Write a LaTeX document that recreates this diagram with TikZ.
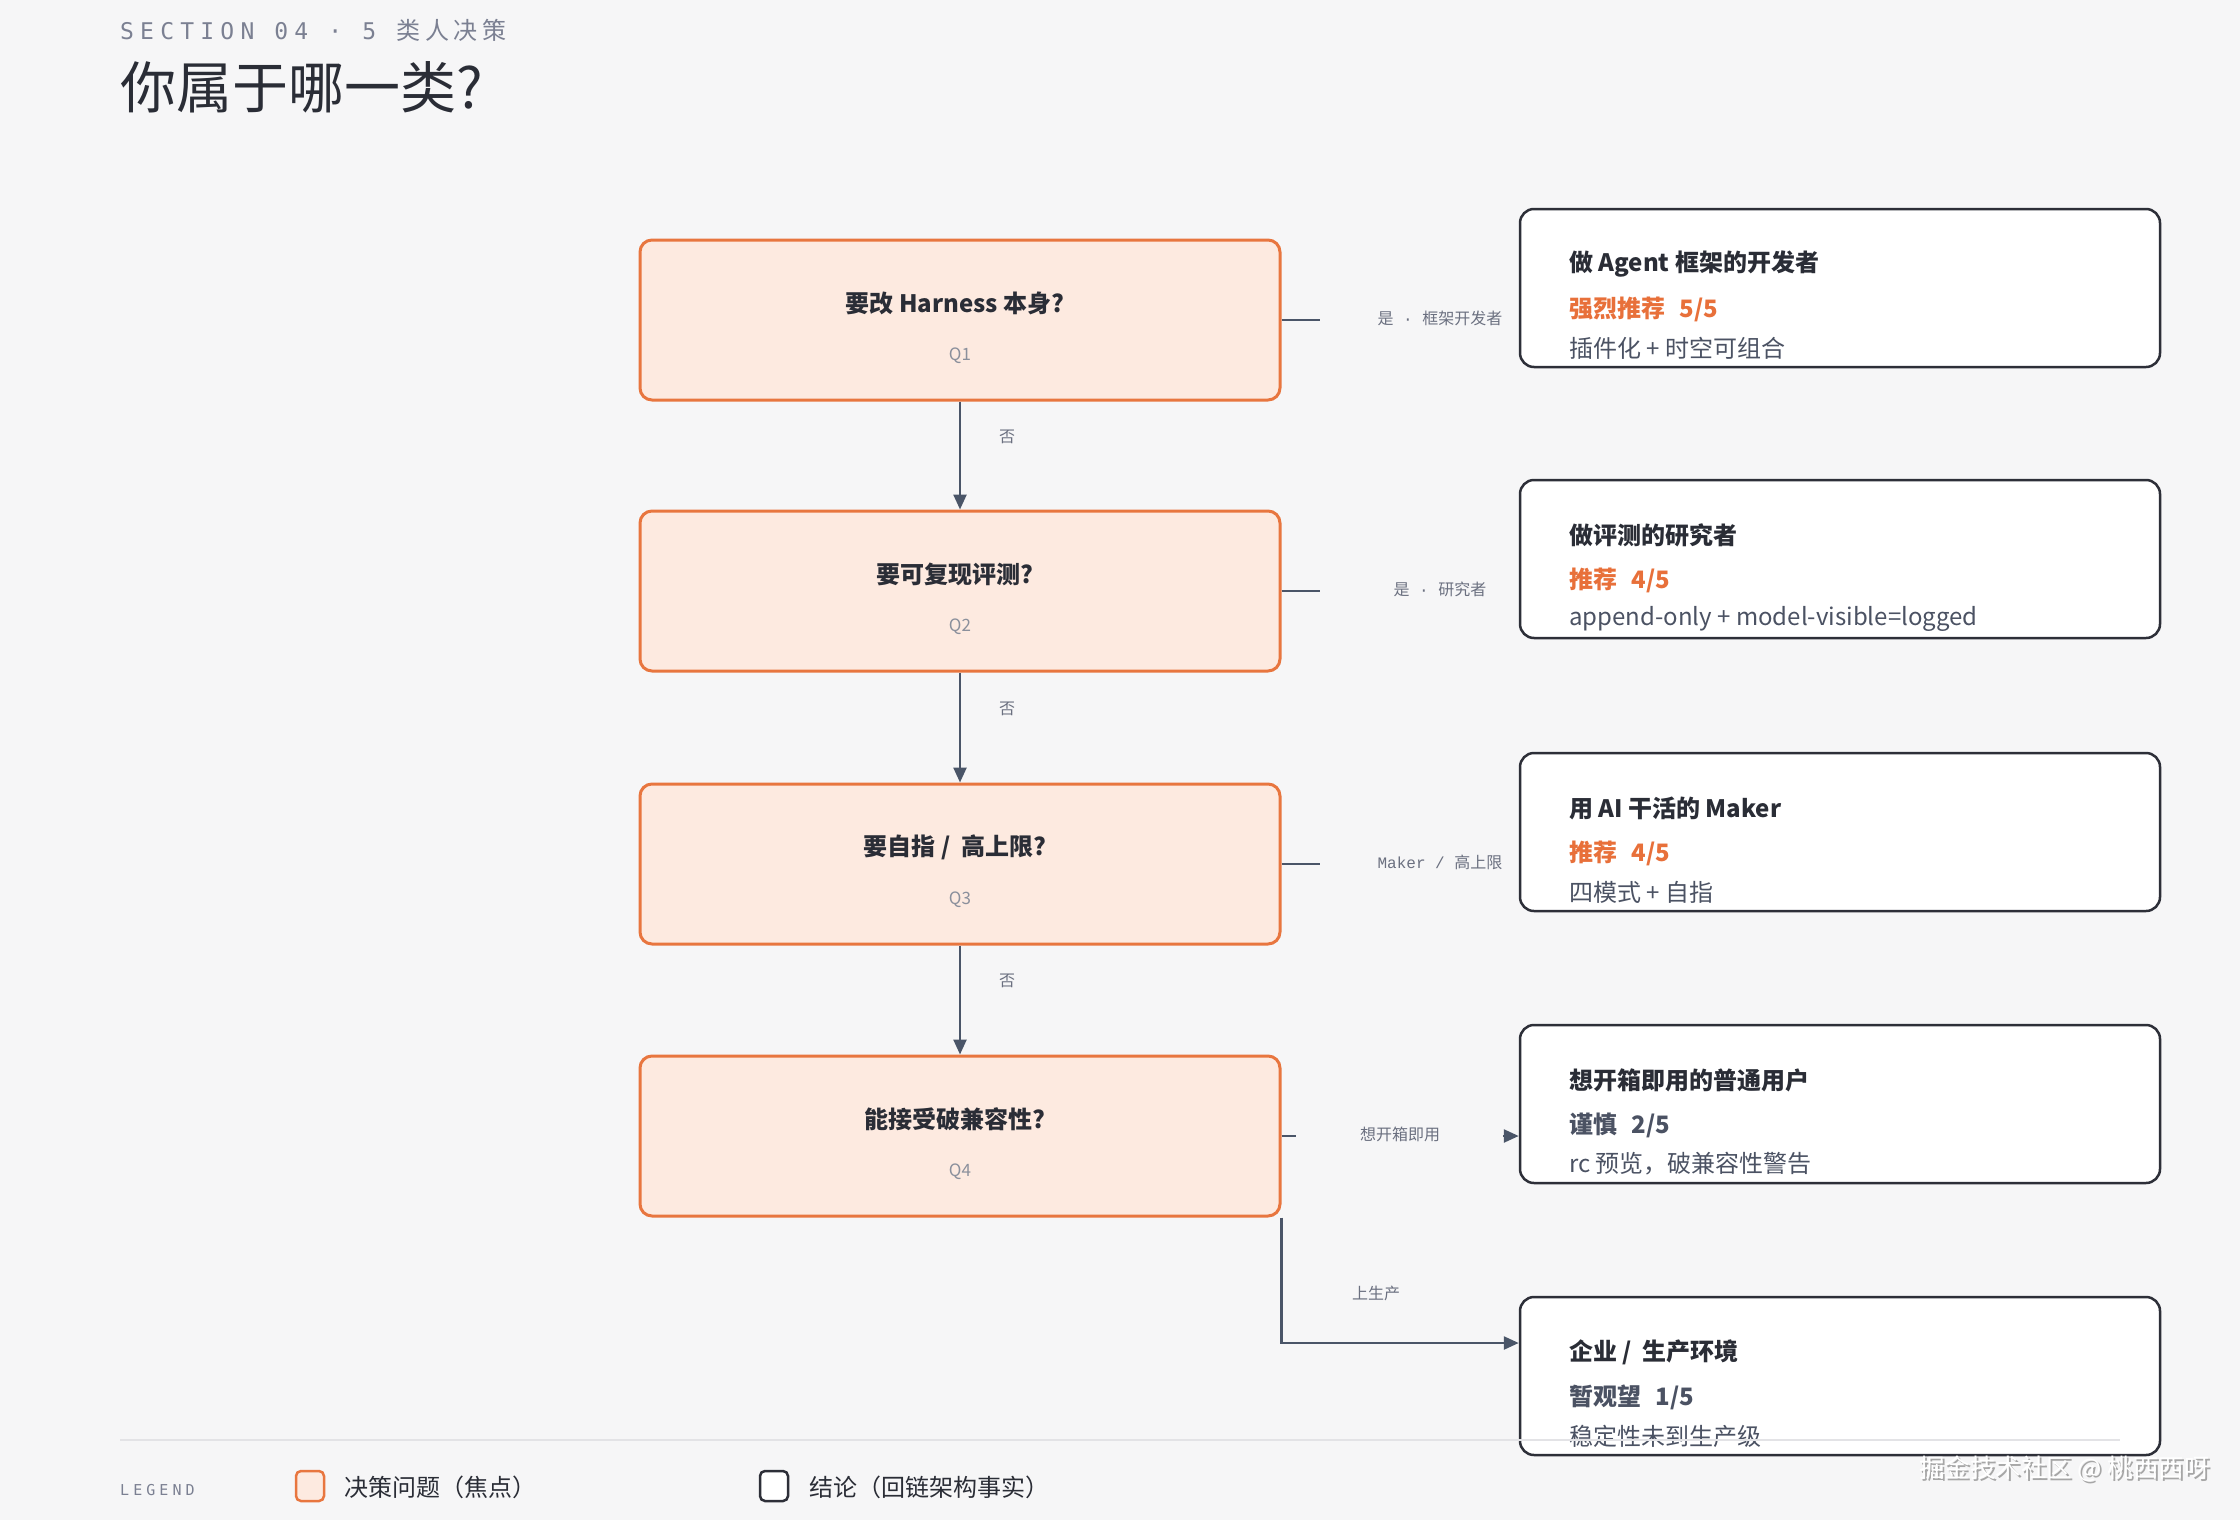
\documentclass[tikz,border=0pt]{standalone}
\usepackage{fontspec}
\setmainfont{Noto Sans CJK SC}
\newfontfamily\songti{Noto Sans CJK SC}
\newfontfamily\secmono[LetterSpace=27]{DejaVu Sans Mono}
\newfontfamily\seccjk[LetterSpace=20]{Noto Sans CJK SC}
\newfontfamily\lmono{Liberation Mono}
\usetikzlibrary{arrows.meta}
\definecolor{bg}{HTML}{F6F6F7}
\definecolor{qorange}{HTML}{E8763F}
\definecolor{qfill}{HTML}{FDEAE0}
\definecolor{cdark}{HTML}{2D2F38}
\definecolor{tdark}{HTML}{2A2D36}
\definecolor{tgray}{HTML}{4B5263}
\definecolor{torange}{HTML}{E8703A}
\definecolor{slate}{HTML}{4A5568}
\definecolor{qgray}{HTML}{8B909C}
\definecolor{lgray}{HTML}{6B7080}
\definecolor{secgray}{HTML}{7B8092}
\definecolor{sepline}{HTML}{E3E3E6}
\tikzset{
  qbox/.style={draw=qorange, line width=3pt, fill=qfill, rounded corners=12pt,
    minimum width=640pt, minimum height=160pt, inner sep=0pt},
  cbox/.style={draw=cdark, line width=2.5pt, fill=white, rounded corners=14pt,
    minimum width=640pt, minimum height=158pt, inner sep=0pt},
  qtitle/.style={font=\fontsize{24}{28}\selectfont\bfseries, text=tdark, inner sep=0pt},
  qlab/.style={font=\fontsize{17}{20}\selectfont, text=qgray, inner sep=0pt},
  flow/.style={draw=slate, line width=2.5pt},
  arr/.style={flow, -{Triangle[length=15pt,width=13pt]}},
  elab/.style={font=\fontsize{16}{18}\selectfont, text=lgray, inner sep=0pt},
  cl/.style={anchor=west, inner sep=0pt},
  clone/.style={cl, font=\fontsize{24}{28}\selectfont\bfseries, text=tdark},
  cltwo/.style={cl, font=\fontsize{24}{28}\selectfont\bfseries, text=torange},
  cltwogray/.style={cl, font=\fontsize{24}{28}\selectfont\bfseries, text=tgray},
  clthree/.style={cl, font=\fontsize{24}{28}\selectfont, text=tgray},
  legtext/.style={anchor=west, inner sep=0pt, font=\fontsize{24}{28}\selectfont, text=tdark},
}
\newcommand{\rgap}{\hspace{0.6em}}
\begin{document}
\begin{tikzpicture}[x=1pt,y=-1pt]
\fill[bg] (0,0) rectangle (2240,1520);
\useasboundingbox (0,0) rectangle (2240,1520);

% header
\node[anchor=base west, inner sep=0pt, text=secgray, font=\fontsize{23}{26}\selectfont] (sec) at (120,40)
  {{\secmono SECTION 04 · 5 }{\fontsize{24}{26}\selectfont\seccjk 类人决策}};
\node[anchor=base west, inner sep=0pt, text=tdark, font=\fontsize{56}{60}\selectfont\songti] (title) at (120,108)
  {你属于哪一类?};

% question boxes
\node[qbox] (q1) at (960,320) {};
\node[qbox] (q2) at (960,591) {};
\node[qbox] (q3) at (960,864) {};
\node[qbox] (q4) at (960,1136) {};
\node[qtitle] (q1t) at (955,303) {要改 Harness 本身?};
\node[qlab]   (q1n) at (960,356) {Q1};
\node[qtitle] (q2t) at (955,574) {要可复现评测?};
\node[qlab]   (q2n) at (960,627) {Q2};
\node[qtitle] (q3t) at (955,847) {要自指\ / \ 高上限?};
\node[qlab]   (q3n) at (960,900) {Q3};
\node[qtitle] (q4t) at (955,1119) {能接受破兼容性?};
\node[qlab]   (q4n) at (960,1172) {Q4};

% conclusion boxes
\node[cbox] (c1) at (1840,288) {};
\node[cbox] (c2) at (1840,559) {};
\node[cbox] (c3) at (1840,832) {};
\node[cbox] (c4) at (1840,1104) {};
\node[cbox] (c5) at (1840,1376) {};

\node[clone]   (c1a) at (1569,264) {做 Agent 框架的开发者};
\node[cltwo]   (c1b) at (1569,309) {强烈推荐\rgap 5/5};
\node[clthree] (c1c) at (1569,348) {插件化 + 时空可组合};

\node[clone]   (c2a) at (1569,535) {做评测的研究者};
\node[cltwo]   (c2b) at (1569,580) {推荐\rgap 4/5};
\node[clthree] (c2c) at (1569,619) {append-only + model-visible=logged};

\node[clone]   (c3a) at (1569,808) {用 AI 干活的 Maker};
\node[cltwo]   (c3b) at (1569,853) {推荐\rgap 4/5};
\node[clthree] (c3c) at (1569,892) {四模式 + 自指};

\node[clone]     (c4a) at (1569,1080) {想开箱即用的普通用户};
\node[cltwogray] (c4b) at (1569,1125) {谨慎\rgap 2/5};
\node[clthree]   (c4c) at (1569,1164) {rc 预览，破兼容性警告};

\node[clone]     (c5a) at (1569,1352) {企业\ / \ 生产环境};
\node[cltwogray] (c5b) at (1569,1397) {暂观望\rgap 1/5};
\node[clthree]   (c5c) at (1569,1436) {稳定性未到生产级};

% vertical "no" arrows
\draw[arr] (q1.south) -- (q2.north);
\draw[arr] (q2.south) -- (q3.north);
\draw[arr] (q3.south) -- (q4.north);
\node[elab] (n1) at (1007,437) {否};
\node[elab] (n2) at (1007,709) {否};
\node[elab] (n3) at (1007,981) {否};

% right stubs
\coordinate (s1) at (1320,320);
\coordinate (s2) at (1320,591);
\coordinate (s3) at (1320,864);
\coordinate (s4) at (1296,1136);
\draw[flow] (q1.east) -- (s1);
\draw[flow] (q2.east) -- (s2);
\draw[flow] (q3.east) -- (s3);
\draw[flow] (q4.east) -- (s4);
\node[elab] (e1) at (1440,318) {是{\lmono\space·\space}框架开发者};
\node[elab] (e2) at (1440,589) {是{\lmono\space·\space}研究者};
\node[elab] (e3) at (1440,862) {{\lmono Maker / }高上限};
\node[elab] (e4) at (1400,1134) {想开箱即用};
\coordinate (a4) at (1503,1136);
\draw[arr] (a4) -- (c4.west |- a4);

% production branch
\coordinate (k5) at (1400,1343);
\draw[arr] (q4.south east) |- (c5.west |- k5);
\node[elab] (e5) at (1376,1293) {上生产};

% legend
\draw[sepline, line width=2pt] (120,1440) -- (2120,1440);
\node[anchor=west, inner sep=0pt, text=secgray, font=\fontsize{15}{18}\selectfont\secmono] (leg) at (120,1490) {LEGEND};
\node[draw=qorange, fill=qfill, line width=2.5pt, rounded corners=5pt, minimum width=28pt, minimum height=30pt, inner sep=0pt] (sw1) at (310,1486) {};
\node[legtext] (lt1) at (344,1487) {决策问题（焦点）};
\node[draw=cdark, fill=white, line width=2.5pt, rounded corners=5pt, minimum width=28pt, minimum height=30pt, inner sep=0pt] (sw2) at (774,1486) {};
\node[legtext] (lt2) at (809,1487) {结论（回链架构事实）};

% watermark
\node[anchor=west, inner sep=0pt, text=gray!70, font=\fontsize{25.5}{30}\selectfont] (wms) at (1921,1471) {掘金技术社区 @ 桃西西呀};
\node[anchor=west, inner sep=0pt, text=white, font=\fontsize{25.5}{30}\selectfont] (wm) at (1919,1469) {掘金技术社区 @ 桃西西呀};
\end{tikzpicture}
\end{document}
